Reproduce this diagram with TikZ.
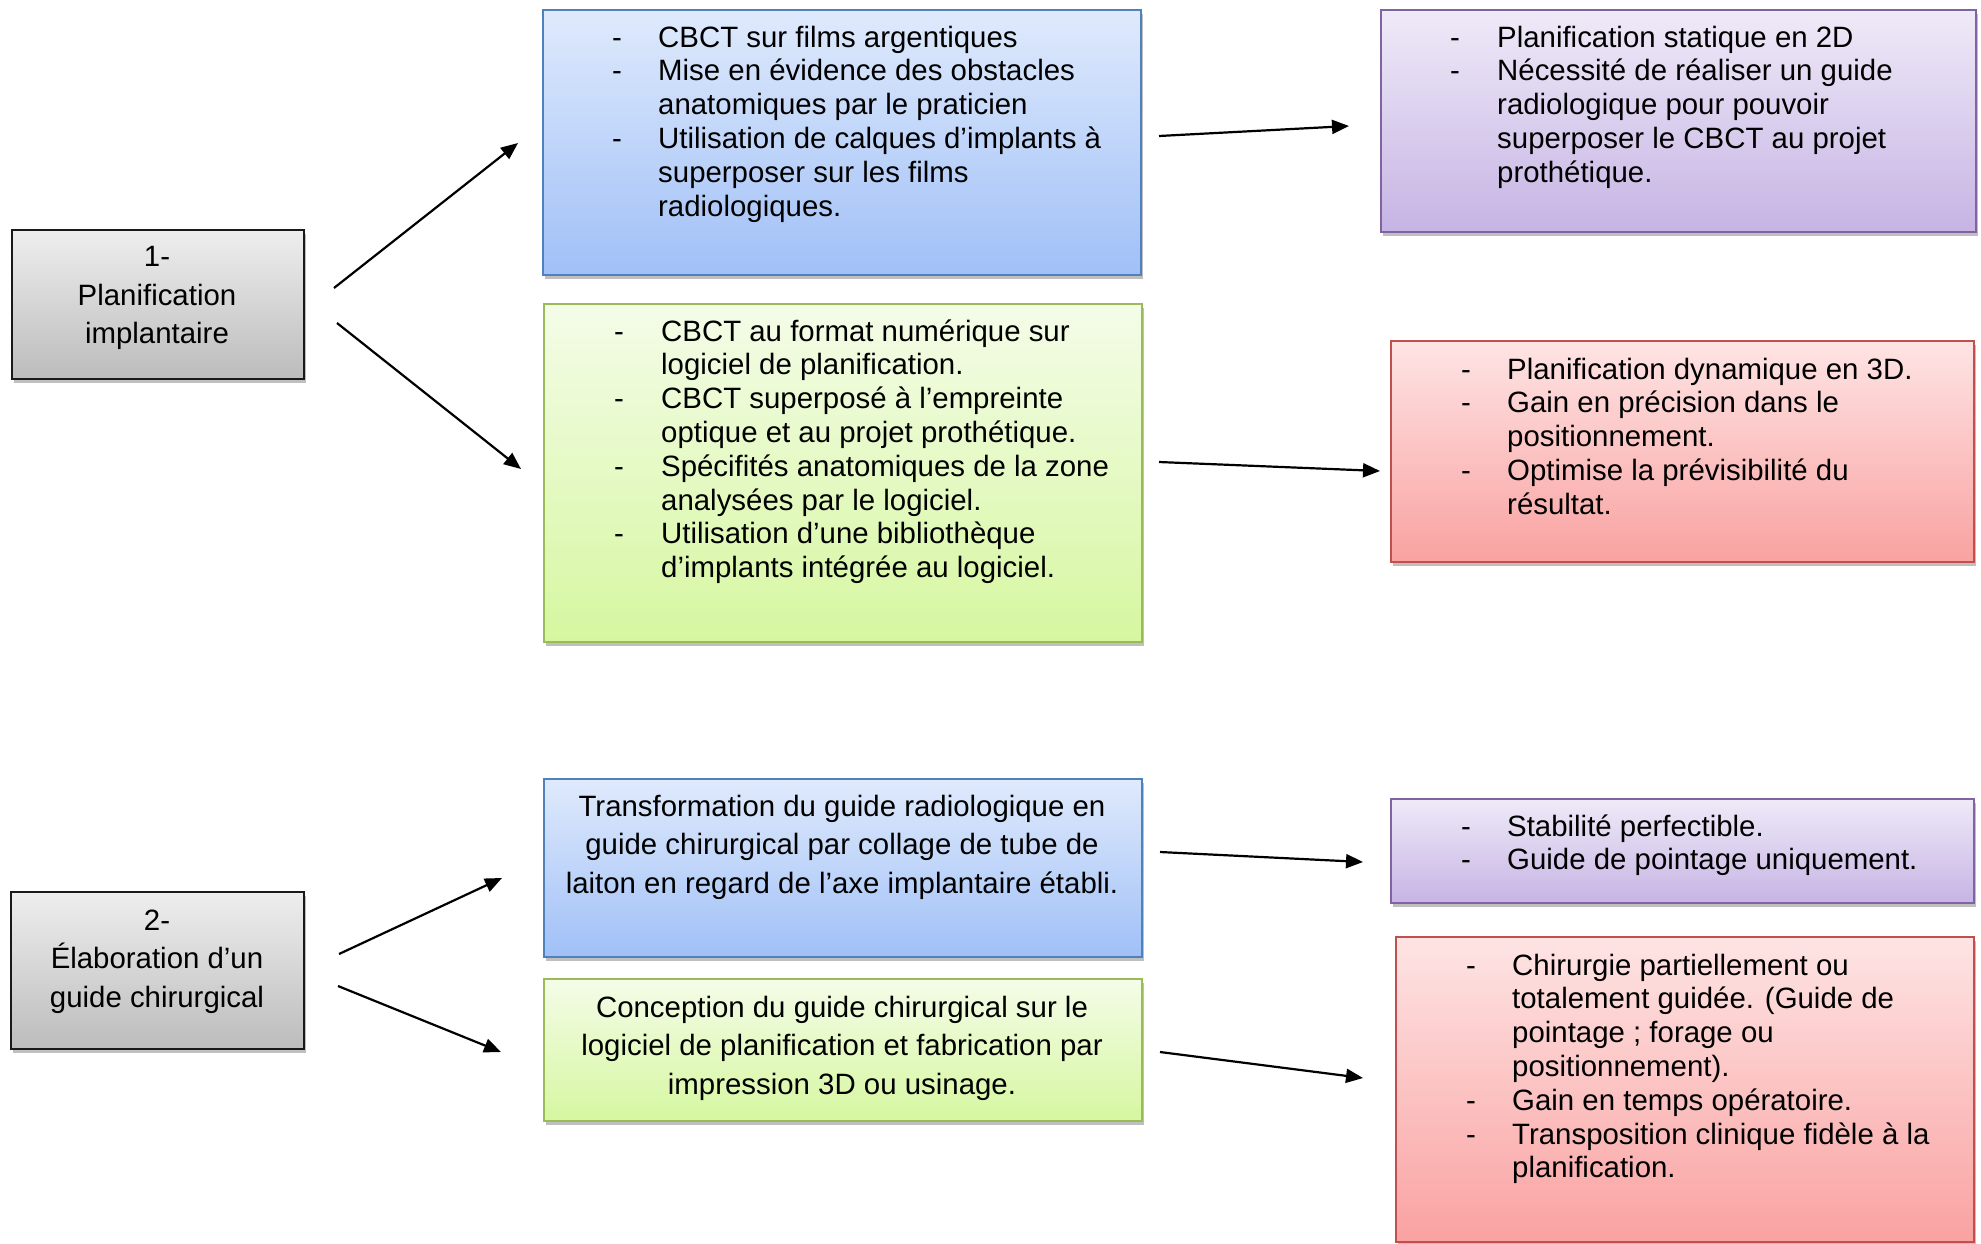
\documentclass[tikz,border=0pt]{standalone}
\usepackage{fontspec}
\setmainfont{Liberation Sans}
\usetikzlibrary{arrows.meta,shadows}
\definecolor{blueT}{RGB}{223,234,252}
\definecolor{blueB}{RGB}{160,192,247}
\definecolor{blueD}{RGB}{79,129,189}
\definecolor{greenT}{RGB}{244,252,232}
\definecolor{greenB}{RGB}{214,247,160}
\definecolor{greenD}{RGB}{155,187,89}
\definecolor{purpT}{RGB}{239,234,248}
\definecolor{purpB}{RGB}{198,180,228}
\definecolor{purpD}{RGB}{128,100,162}
\definecolor{redT}{RGB}{254,228,228}
\definecolor{redB}{RGB}{249,162,161}
\definecolor{redD}{RGB}{192,80,77}
\definecolor{grayT}{RGB}{238,238,238}
\definecolor{grayB}{RGB}{188,188,188}
\newenvironment{dlist}[1]{\begin{tabular}[t]{@{}p{#1}@{}l@{}}}{\end{tabular}}
\tikzset{
  bx/.style={draw, line width=2pt, anchor=north west, inner sep=0pt,
    drop shadow={shadow xshift=1.5pt, shadow yshift=-4pt, opacity=0.25, fill=black}},
  bluebox/.style={bx, draw=blueD, top color=blueT, bottom color=blueB},
  greenbox/.style={bx, draw=greenD, top color=greenT, bottom color=greenB},
  purpbox/.style={bx, draw=purpD, top color=purpT, bottom color=purpB},
  redbox/.style={bx, draw=redD, top color=redT, bottom color=redB},
  graybox/.style={bx, draw=black!90, top color=grayT, bottom color=grayB},
  lsttxt/.style={anchor=base west, inner sep=0pt, font=\fontsize{29.4pt}{33.8pt}\selectfont},
  ctrtxt/.style={anchor=base, inner sep=0pt, font=\fontsize{29.4pt}{38.7pt}\selectfont},
  arr/.style={line width=2.2pt, -{Triangle[length=17pt,width=14pt]}},
}
\begin{document}
\begin{tikzpicture}[x=1pt,y=-1pt]
\useasboundingbox[fill=white] (0,0) rectangle (1981,1243);

% boxes
\node[graybox, minimum width=292pt, minimum height=149pt] (g1) at (11,229) {};
\node[graybox, minimum width=293pt, minimum height=157pt] (g2) at (10,891) {};
\node[bluebox, minimum width=598pt, minimum height=265pt] (b1) at (542,9) {};
\node[greenbox, minimum width=598pt, minimum height=338pt] (gr1) at (543,303) {};
\node[purpbox, minimum width=595pt, minimum height=222pt] (p1) at (1380,9) {};
\node[redbox, minimum width=583pt, minimum height=221pt] (r1) at (1390,340) {};
\node[bluebox, minimum width=598pt, minimum height=178pt] (b2) at (543,778) {};
\node[greenbox, minimum width=598pt, minimum height=142pt] (gr2) at (543,978) {};
\node[purpbox, minimum width=583pt, minimum height=104pt] (p2) at (1390,798) {};
\node[redbox, minimum width=578pt, minimum height=305pt] (r2) at (1395,936) {};

% texts
\node[ctrtxt] (tg1) at (157,266.5) {\begin{tabular}[t]{@{}c@{}}1-\\Planification\\implantaire\end{tabular}};
\node[ctrtxt] (tg2) at (157,930) {\begin{tabular}[t]{@{}c@{}}2-\\Élaboration d’un\\guide chirurgical\end{tabular}};

\node[lsttxt] (tb1) at (612,47) {\begin{dlist}{46pt}
- & CBCT sur films argentiques\\
- & Mise en évidence des obstacles\\
  & anatomiques par le praticien\\
- & Utilisation de calques d’implants à\\
  & superposer sur les films\\
  & radiologiques.
\end{dlist}};

\node[lsttxt] (tp1) at (1450,47) {\begin{dlist}{47pt}
- & Planification statique en 2D\\
- & Nécessité de réaliser un guide\\
  & radiologique pour pouvoir\\
  & superposer le CBCT au projet\\
  & prothétique.
\end{dlist}};

\node[lsttxt] (tgr1) at (614,341) {\begin{dlist}{47pt}
- & CBCT au format numérique sur\\
  & logiciel de planification.\\
- & CBCT superposé à l’empreinte\\
  & optique et au projet prothétique.\\
- & Spécifités anatomiques de la zone\\
  & analysées par le logiciel.\\
- & Utilisation d’une bibliothèque\\
  & d’implants intégrée au logiciel.
\end{dlist}};

\node[lsttxt] (tr1) at (1461,379) {\begin{dlist}{46pt}
- & Planification dynamique en 3D.\\
- & Gain en précision dans le\\
  & positionnement.\\
- & Optimise la prévisibilité du\\
  & résultat.
\end{dlist}};

\node[ctrtxt] (tb2) at (842,816) {\begin{tabular}[t]{@{}c@{}}Transformation du guide radiologique en\\guide chirurgical par collage de tube de\\laiton en regard de l’axe implantaire établi.\end{tabular}};

\node[ctrtxt] (tgr2) at (842,1017) {\begin{tabular}[t]{@{}c@{}}Conception du guide chirurgical sur le\\logiciel de planification et fabrication par\\impression 3D ou usinage.\end{tabular}};

\node[lsttxt] (tp2) at (1461,836) {\begin{dlist}{46pt}
- & Stabilité perfectible.\\
- & Guide de pointage uniquement.
\end{dlist}};

\node[lsttxt] (tr2) at (1466,975) {\begin{dlist}{46pt}
- & Chirurgie partiellement ou\\
  & totalement guidée. (Guide de\\
  & pointage ; forage ou\\
  & positionnement).\\
- & Gain en temps opératoire.\\
- & Transposition clinique fidèle à la\\
  & planification.
\end{dlist}};

% arrow end points
\coordinate (a1s) at (334,288);  \coordinate (a1e) at (518,143);
\coordinate (a2s) at (337,323);  \coordinate (a2e) at (521,469);
\coordinate (a3s) at (1159,136); \coordinate (a3e) at (1349,126);
\coordinate (a4s) at (1159,462); \coordinate (a4e) at (1380,471);
\coordinate (a5s) at (339,954);  \coordinate (a5e) at (502,878);
\coordinate (a6s) at (338,986);  \coordinate (a6e) at (501,1052);
\coordinate (a7s) at (1160,852); \coordinate (a7e) at (1363,862);
\coordinate (a8s) at (1160,1052);\coordinate (a8e) at (1363,1078);

\draw[arr] (a1s) -- (a1e);
\draw[arr] (a2s) -- (a2e);
\draw[arr] (a3s) -- (a3e);
\draw[arr] (a4s) -- (a4e);
\draw[arr] (a5s) -- (a5e);
\draw[arr] (a6s) -- (a6e);
\draw[arr] (a7s) -- (a7e);
\draw[arr] (a8s) -- (a8e);
\end{tikzpicture}
\end{document}
